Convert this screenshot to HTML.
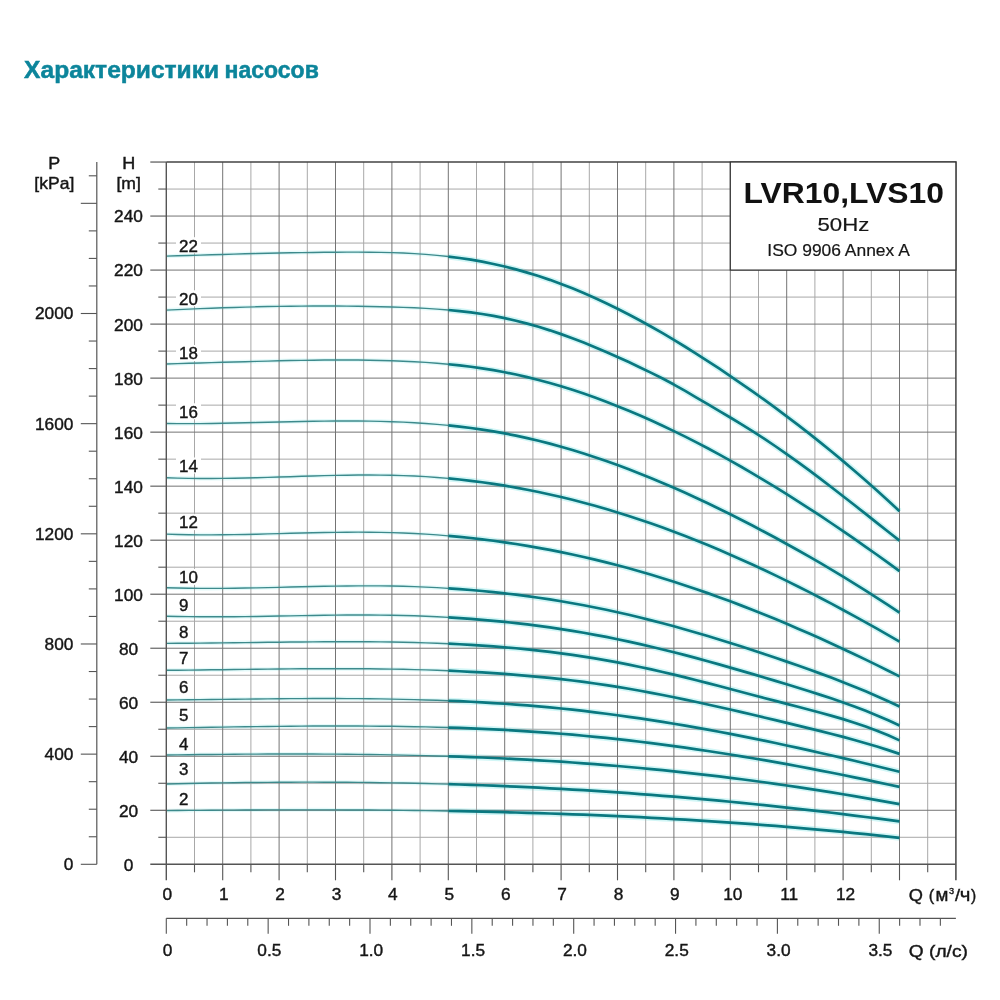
<!DOCTYPE html>
<html><head><meta charset="utf-8"><style>
html,body{margin:0;padding:0;background:#fff;width:1000px;height:1000px;overflow:hidden}
svg{display:block}
text{font-family:"Liberation Sans",sans-serif;fill:#161616;stroke:#161616;stroke-width:0.4px}
</style></head><body>
<svg width="1000" height="1000" viewBox="0 0 1000 1000">
<path d="M448.3 256.57 L459.58 258 L470.86 259.7 L482.14 261.68 L493.42 263.96 L504.7 266.54 L515.98 269.41 L527.26 272.59 L538.54 276.07 L549.82 279.85 L561.1 283.93 L572.38 288.32 L583.66 293.01 L594.94 297.98 L606.22 303.22 L617.5 308.73 L628.78 314.49 L640.06 320.5 L651.34 326.74 L662.62 333.2 L673.9 339.87 L685.18 346.74 L696.46 353.81 L707.74 361.05 L719.02 368.47 L730.3 376.05 L741.58 383.77 L752.86 391.66 L764.14 399.7 L775.42 407.92 L786.7 416.31 L797.98 424.88 L809.26 433.64 L820.54 442.59 L831.82 451.74 L843.1 461.09 L854.38 470.66 L865.66 480.45 L876.94 490.46 L888.22 500.7 L899.5 511.17 M448.3 309.99 L459.58 311.09 L470.86 312.42 L482.14 314.02 L493.42 315.91 L504.7 318.13 L515.98 320.7 L527.26 323.6 L538.54 326.82 L549.82 330.34 L561.1 334.15 L572.38 338.23 L583.66 342.56 L594.94 347.13 L606.22 351.92 L617.5 356.91 L628.78 362.08 L640.06 367.41 L651.34 372.89 L662.62 378.57 L673.9 384.56 L685.18 390.93 L696.46 397.54 L707.74 404.19 L719.02 410.83 L730.3 417.52 L741.58 424.35 L752.86 431.37 L764.14 438.67 L775.42 446.25 L786.7 454.1 L797.98 462.18 L809.26 470.46 L820.54 478.92 L831.82 487.52 L843.1 496.24 L854.38 505.05 L865.66 513.92 L876.94 522.82 L888.22 531.72 L899.5 540.59 M448.3 364.24 L459.58 365.41 L470.86 366.78 L482.14 368.37 L493.42 370.18 L504.7 372.24 L515.98 374.55 L527.26 377.12 L538.54 379.94 L549.82 383 L561.1 386.3 L572.38 389.83 L583.66 393.59 L594.94 397.56 L606.22 401.75 L617.5 406.15 L628.78 410.75 L640.06 415.55 L651.34 420.54 L662.62 425.73 L673.9 431.11 L685.18 436.66 L696.46 442.4 L707.74 448.31 L719.02 454.39 L730.3 460.63 L741.58 467.03 L752.86 473.59 L764.14 480.3 L775.42 487.16 L786.7 494.16 L797.98 501.3 L809.26 508.57 L820.54 515.97 L831.82 523.5 L843.1 531.15 L854.38 538.91 L865.66 546.79 L876.94 554.77 L888.22 562.86 L899.5 571.04 M448.3 425.39 L459.58 426.6 L470.86 428 L482.14 429.59 L493.42 431.39 L504.7 433.4 L515.98 435.63 L527.26 438.09 L538.54 440.76 L549.82 443.64 L561.1 446.73 L572.38 450.02 L583.66 453.5 L594.94 457.18 L606.22 461.04 L617.5 465.08 L628.78 469.3 L640.06 473.69 L651.34 478.24 L662.62 482.95 L673.9 487.82 L685.18 492.84 L696.46 498 L707.74 503.31 L719.02 508.75 L730.3 514.32 L741.58 520.01 L752.86 525.82 L764.14 531.75 L775.42 537.8 L786.7 543.96 L797.98 550.24 L809.26 556.65 L820.54 563.18 L831.82 569.84 L843.1 576.64 L854.38 583.57 L865.66 590.64 L876.94 597.86 L888.22 605.22 L899.5 612.74 M448.3 478.41 L459.58 479.53 L470.86 480.82 L482.14 482.28 L493.42 483.89 L504.7 485.68 L515.98 487.63 L527.26 489.74 L538.54 492.01 L549.82 494.45 L561.1 497.04 L572.38 499.8 L583.66 502.72 L594.94 505.8 L606.22 509.04 L617.5 512.44 L628.78 515.99 L640.06 519.7 L651.34 523.57 L662.62 527.58 L673.9 531.74 L685.18 536.05 L696.46 540.5 L707.74 545.09 L719.02 549.81 L730.3 554.66 L741.58 559.65 L752.86 564.77 L764.14 570.01 L775.42 575.37 L786.7 580.85 L797.98 586.45 L809.26 592.16 L820.54 597.98 L831.82 603.91 L843.1 609.95 L854.38 616.09 L865.66 622.33 L876.94 628.66 L888.22 635.09 L899.5 641.61 M448.3 535.83 L459.58 536.86 L470.86 538.03 L482.14 539.33 L493.42 540.76 L504.7 542.32 L515.98 544.01 L527.26 545.84 L538.54 547.8 L549.82 549.89 L561.1 552.12 L572.38 554.48 L583.66 556.97 L594.94 559.6 L606.22 562.36 L617.5 565.26 L628.78 568.29 L640.06 571.46 L651.34 574.76 L662.62 578.19 L673.9 581.74 L685.18 585.42 L696.46 589.22 L707.74 593.14 L719.02 597.19 L730.3 601.35 L741.58 605.62 L752.86 610.01 L764.14 614.5 L775.42 619.11 L786.7 623.82 L797.98 628.64 L809.26 633.55 L820.54 638.57 L831.82 643.69 L843.1 648.9 L854.38 654.21 L865.66 659.61 L876.94 665.1 L888.22 670.67 L899.5 676.34 M448.3 588.34 L459.58 589.12 L470.86 590.01 L482.14 591.02 L493.42 592.13 L504.7 593.36 L515.98 594.7 L527.26 596.17 L538.54 597.75 L549.82 599.44 L561.1 601.26 L572.38 603.21 L583.66 605.27 L594.94 607.47 L606.22 609.78 L617.5 612.23 L628.78 614.8 L640.06 617.5 L651.34 620.32 L662.62 623.25 L673.9 626.29 L685.18 629.44 L696.46 632.68 L707.74 636.02 L719.02 639.45 L730.3 642.96 L741.58 646.55 L752.86 650.22 L764.14 653.96 L775.42 657.76 L786.7 661.63 L797.98 665.55 L809.26 669.55 L820.54 673.64 L831.82 677.84 L843.1 682.18 L854.38 686.67 L865.66 691.34 L876.94 696.19 L888.22 701.26 L899.5 706.56 M448.3 617.37 L459.58 618.08 L470.86 618.88 L482.14 619.79 L493.42 620.8 L504.7 621.91 L515.98 623.13 L527.26 624.46 L538.54 625.9 L549.82 627.45 L561.1 629.12 L572.38 630.9 L583.66 632.79 L594.94 634.81 L606.22 636.95 L617.5 639.21 L628.78 641.6 L640.06 644.1 L651.34 646.72 L662.62 649.44 L673.9 652.26 L685.18 655.17 L696.46 658.16 L707.74 661.23 L719.02 664.37 L730.3 667.58 L741.58 670.84 L752.86 674.15 L764.14 677.5 L775.42 680.89 L786.7 684.3 L797.98 687.75 L809.26 691.25 L820.54 694.85 L831.82 698.57 L843.1 702.45 L854.38 706.52 L865.66 710.82 L876.94 715.39 L888.22 720.25 L899.5 725.44 M448.3 643.7 L459.58 644.25 L470.86 644.88 L482.14 645.59 L493.42 646.39 L504.7 647.29 L515.98 648.28 L527.26 649.38 L538.54 650.58 L549.82 651.9 L561.1 653.33 L572.38 654.89 L583.66 656.56 L594.94 658.37 L606.22 660.31 L617.5 662.39 L628.78 664.61 L640.06 666.96 L651.34 669.43 L662.62 672 L673.9 674.67 L685.18 677.42 L696.46 680.24 L707.74 683.12 L719.02 686.05 L730.3 689 L741.58 691.98 L752.86 694.97 L764.14 697.96 L775.42 700.93 L786.7 703.87 L797.98 706.79 L809.26 709.72 L820.54 712.72 L831.82 715.85 L843.1 719.16 L854.38 722.71 L865.66 726.55 L876.94 730.73 L888.22 735.32 L899.5 740.36 M448.3 670.72 L459.58 671.23 L470.86 671.8 L482.14 672.44 L493.42 673.15 L504.7 673.94 L515.98 674.82 L527.26 675.78 L538.54 676.82 L549.82 677.96 L561.1 679.19 L572.38 680.53 L583.66 681.96 L594.94 683.49 L606.22 685.14 L617.5 686.9 L628.78 688.77 L640.06 690.74 L651.34 692.82 L662.62 694.99 L673.9 697.25 L685.18 699.58 L696.46 701.98 L707.74 704.45 L719.02 706.98 L730.3 709.55 L741.58 712.16 L752.86 714.81 L764.14 717.48 L775.42 720.17 L786.7 722.88 L797.98 725.59 L809.26 728.33 L820.54 731.12 L831.82 733.98 L843.1 736.93 L854.38 740 L865.66 743.2 L876.94 746.57 L888.22 750.11 L899.5 753.86 M448.3 700.74 L459.58 701.22 L470.86 701.76 L482.14 702.36 L493.42 703.03 L504.7 703.76 L515.98 704.56 L527.26 705.44 L538.54 706.38 L549.82 707.41 L561.1 708.51 L572.38 709.7 L583.66 710.96 L594.94 712.31 L606.22 713.73 L617.5 715.23 L628.78 716.8 L640.06 718.44 L651.34 720.15 L662.62 721.93 L673.9 723.77 L685.18 725.68 L696.46 727.66 L707.74 729.69 L719.02 731.78 L730.3 733.93 L741.58 736.13 L752.86 738.39 L764.14 740.69 L775.42 743.05 L786.7 745.46 L797.98 747.91 L809.26 750.41 L820.54 752.95 L831.82 755.53 L843.1 758.14 L854.38 760.8 L865.66 763.49 L876.94 766.22 L888.22 768.97 L899.5 771.76 M448.3 727.54 L459.58 727.92 L470.86 728.35 L482.14 728.82 L493.42 729.35 L504.7 729.94 L515.98 730.58 L527.26 731.28 L538.54 732.04 L549.82 732.86 L561.1 733.75 L572.38 734.71 L583.66 735.73 L594.94 736.81 L606.22 737.96 L617.5 739.17 L628.78 740.45 L640.06 741.78 L651.34 743.18 L662.62 744.63 L673.9 746.14 L685.18 747.71 L696.46 749.33 L707.74 751.01 L719.02 752.74 L730.3 754.52 L741.58 756.36 L752.86 758.24 L764.14 760.18 L775.42 762.17 L786.7 764.2 L797.98 766.28 L809.26 768.4 L820.54 770.57 L831.82 772.79 L843.1 775.04 L854.38 777.34 L865.66 779.68 L876.94 782.06 L888.22 784.48 L899.5 786.93 M448.3 756.28 L459.58 756.66 L470.86 757.07 L482.14 757.52 L493.42 758 L504.7 758.52 L515.98 759.08 L527.26 759.68 L538.54 760.32 L549.82 761 L561.1 761.72 L572.38 762.49 L583.66 763.3 L594.94 764.15 L606.22 765.05 L617.5 765.99 L628.78 766.98 L640.06 768.01 L651.34 769.08 L662.62 770.2 L673.9 771.36 L685.18 772.57 L696.46 773.82 L707.74 775.12 L719.02 776.46 L730.3 777.85 L741.58 779.28 L752.86 780.76 L764.14 782.28 L775.42 783.85 L786.7 785.47 L797.98 787.13 L809.26 788.83 L820.54 790.59 L831.82 792.39 L843.1 794.23 L854.38 796.12 L865.66 798.06 L876.94 800.05 L888.22 802.08 L899.5 804.16 M448.3 784.15 L459.58 784.49 L470.86 784.86 L482.14 785.26 L493.42 785.69 L504.7 786.15 L515.98 786.64 L527.26 787.16 L538.54 787.71 L549.82 788.29 L561.1 788.9 L572.38 789.54 L583.66 790.21 L594.94 790.92 L606.22 791.65 L617.5 792.42 L628.78 793.22 L640.06 794.05 L651.34 794.9 L662.62 795.79 L673.9 796.71 L685.18 797.66 L696.46 798.65 L707.74 799.66 L719.02 800.7 L730.3 801.77 L741.58 802.87 L752.86 804.01 L764.14 805.17 L775.42 806.36 L786.7 807.59 L797.98 808.84 L809.26 810.12 L820.54 811.44 L831.82 812.78 L843.1 814.15 L854.38 815.55 L865.66 816.99 L876.94 818.45 L888.22 819.94 L899.5 821.46 M448.3 810.99 L459.58 811.19 L470.86 811.41 L482.14 811.65 L493.42 811.91 L504.7 812.19 L515.98 812.48 L527.26 812.8 L538.54 813.14 L549.82 813.5 L561.1 813.89 L572.38 814.29 L583.66 814.72 L594.94 815.17 L606.22 815.65 L617.5 816.15 L628.78 816.67 L640.06 817.22 L651.34 817.8 L662.62 818.4 L673.9 819.03 L685.18 819.68 L696.46 820.37 L707.74 821.08 L719.02 821.82 L730.3 822.58 L741.58 823.38 L752.86 824.21 L764.14 825.06 L775.42 825.95 L786.7 826.87 L797.98 827.82 L809.26 828.8 L820.54 829.81 L831.82 830.86 L843.1 831.94 L854.38 833.05 L865.66 834.2 L876.94 835.38 L888.22 836.6 L899.5 837.85" fill="none" stroke="#d2f6f6" stroke-width="6" stroke-linejoin="round"/>
<path d="M166.3 256.17 L177.58 255.8 L188.86 255.45 L200.14 255.1 L211.42 254.76 L222.7 254.43 L233.98 254.11 L245.26 253.81 L256.54 253.52 L267.82 253.25 L279.1 253.01 L290.38 252.79 L301.66 252.6 L312.94 252.43 L324.22 252.3 L335.5 252.19 L346.78 252.13 L358.06 252.12 L369.34 252.19 L380.62 252.35 L391.9 252.64 L403.18 253.06 L414.46 253.65 L425.74 254.41 L437.02 255.38 L448.3 256.57 M166.3 310.12 L177.58 309.59 L188.86 309.09 L200.14 308.62 L211.42 308.19 L222.7 307.79 L233.98 307.43 L245.26 307.1 L256.54 306.82 L267.82 306.57 L279.1 306.37 L290.38 306.21 L301.66 306.1 L312.94 306.04 L324.22 306.02 L335.5 306.05 L346.78 306.13 L358.06 306.27 L369.34 306.46 L380.62 306.7 L391.9 307 L403.18 307.36 L414.46 307.81 L425.74 308.38 L437.02 309.1 L448.3 309.99 M166.3 363.98 L177.58 363.63 L188.86 363.29 L200.14 362.96 L211.42 362.63 L222.7 362.31 L233.98 361.99 L245.26 361.68 L256.54 361.38 L267.82 361.09 L279.1 360.82 L290.38 360.57 L301.66 360.36 L312.94 360.19 L324.22 360.07 L335.5 360 L346.78 360 L358.06 360.07 L369.34 360.21 L380.62 360.44 L391.9 360.77 L403.18 361.2 L414.46 361.74 L425.74 362.42 L437.02 363.25 L448.3 364.24 M166.3 423.56 L177.58 423.64 L188.86 423.65 L200.14 423.58 L211.42 423.45 L222.7 423.27 L233.98 423.04 L245.26 422.79 L256.54 422.53 L267.82 422.25 L279.1 421.97 L290.38 421.71 L301.66 421.47 L312.94 421.27 L324.22 421.11 L335.5 421.01 L346.78 420.97 L358.06 421.01 L369.34 421.14 L380.62 421.37 L391.9 421.71 L403.18 422.16 L414.46 422.75 L425.74 423.47 L437.02 424.35 L448.3 425.39 M166.3 477.73 L177.58 478.12 L188.86 478.37 L200.14 478.49 L211.42 478.5 L222.7 478.42 L233.98 478.25 L245.26 478.02 L256.54 477.73 L267.82 477.4 L279.1 477.05 L290.38 476.68 L301.66 476.32 L312.94 475.98 L324.22 475.66 L335.5 475.4 L346.78 475.2 L358.06 475.07 L369.34 475.03 L380.62 475.09 L391.9 475.27 L403.18 475.59 L414.46 476.05 L425.74 476.67 L437.02 477.46 L448.3 478.41 M166.3 534.15 L177.58 534.5 L188.86 534.73 L200.14 534.84 L211.42 534.86 L222.7 534.79 L233.98 534.64 L245.26 534.44 L256.54 534.2 L267.82 533.92 L279.1 533.62 L290.38 533.32 L301.66 533.03 L312.94 532.76 L324.22 532.52 L335.5 532.34 L346.78 532.21 L358.06 532.16 L369.34 532.2 L380.62 532.35 L391.9 532.6 L403.18 532.99 L414.46 533.5 L425.74 534.15 L437.02 534.92 L448.3 535.83 M166.3 587.75 L177.58 588.06 L188.86 588.27 L200.14 588.38 L211.42 588.4 L222.7 588.34 L233.98 588.22 L245.26 588.05 L256.54 587.84 L267.82 587.6 L279.1 587.33 L290.38 587.06 L301.66 586.79 L312.94 586.53 L324.22 586.3 L335.5 586.11 L346.78 585.96 L358.06 585.87 L369.34 585.84 L380.62 585.9 L391.9 586.05 L403.18 586.3 L414.46 586.65 L425.74 587.11 L437.02 587.67 L448.3 588.34 M166.3 616.18 L177.58 616.47 L188.86 616.66 L200.14 616.78 L211.42 616.82 L222.7 616.8 L233.98 616.72 L245.26 616.6 L256.54 616.45 L267.82 616.26 L279.1 616.07 L290.38 615.86 L301.66 615.66 L312.94 615.46 L324.22 615.29 L335.5 615.15 L346.78 615.05 L358.06 615 L369.34 615.01 L380.62 615.09 L391.9 615.25 L403.18 615.49 L414.46 615.82 L425.74 616.24 L437.02 616.76 L448.3 617.37 M166.3 643.33 L177.58 643.3 L188.86 643.23 L200.14 643.14 L211.42 643.03 L222.7 642.91 L233.98 642.77 L245.26 642.62 L256.54 642.47 L267.82 642.32 L279.1 642.18 L290.38 642.05 L301.66 641.93 L312.94 641.83 L324.22 641.75 L335.5 641.7 L346.78 641.68 L358.06 641.7 L369.34 641.76 L380.62 641.87 L391.9 642.03 L403.18 642.23 L414.46 642.5 L425.74 642.83 L437.02 643.23 L448.3 643.7 M166.3 670.27 L177.58 670.18 L188.86 670.08 L200.14 669.95 L211.42 669.82 L222.7 669.68 L233.98 669.54 L245.26 669.4 L256.54 669.26 L267.82 669.13 L279.1 669.01 L290.38 668.9 L301.66 668.81 L312.94 668.74 L324.22 668.7 L335.5 668.68 L346.78 668.69 L358.06 668.74 L369.34 668.82 L380.62 668.94 L391.9 669.11 L403.18 669.32 L414.46 669.59 L425.74 669.91 L437.02 670.29 L448.3 670.72 M166.3 700.04 L177.58 699.91 L188.86 699.77 L200.14 699.63 L211.42 699.49 L222.7 699.35 L233.98 699.21 L245.26 699.08 L256.54 698.96 L267.82 698.84 L279.1 698.75 L290.38 698.66 L301.66 698.6 L312.94 698.56 L324.22 698.55 L335.5 698.56 L346.78 698.6 L358.06 698.67 L369.34 698.78 L380.62 698.92 L391.9 699.11 L403.18 699.34 L414.46 699.61 L425.74 699.94 L437.02 700.31 L448.3 700.74 M166.3 728.01 L177.58 727.83 L188.86 727.64 L200.14 727.46 L211.42 727.27 L222.7 727.1 L233.98 726.92 L245.26 726.76 L256.54 726.61 L267.82 726.47 L279.1 726.34 L290.38 726.23 L301.66 726.14 L312.94 726.07 L324.22 726.02 L335.5 725.99 L346.78 726 L358.06 726.03 L369.34 726.09 L380.62 726.18 L391.9 726.31 L403.18 726.48 L414.46 726.68 L425.74 726.92 L437.02 727.21 L448.3 727.54 M166.3 754.98 L177.58 754.83 L188.86 754.69 L200.14 754.56 L211.42 754.45 L222.7 754.34 L233.98 754.25 L245.26 754.17 L256.54 754.1 L267.82 754.05 L279.1 754.02 L290.38 754.01 L301.66 754.01 L312.94 754.04 L324.22 754.09 L335.5 754.16 L346.78 754.25 L358.06 754.36 L369.34 754.5 L380.62 754.67 L391.9 754.86 L403.18 755.09 L414.46 755.34 L425.74 755.62 L437.02 755.93 L448.3 756.28 M166.3 784.07 L177.58 783.79 L188.86 783.53 L200.14 783.29 L211.42 783.07 L222.7 782.88 L233.98 782.71 L245.26 782.56 L256.54 782.43 L267.82 782.33 L279.1 782.26 L290.38 782.2 L301.66 782.17 L312.94 782.17 L324.22 782.19 L335.5 782.24 L346.78 782.31 L358.06 782.41 L369.34 782.53 L380.62 782.68 L391.9 782.86 L403.18 783.06 L414.46 783.29 L425.74 783.55 L437.02 783.83 L448.3 784.15 M166.3 810.65 L177.58 810.53 L188.86 810.42 L200.14 810.33 L211.42 810.23 L222.7 810.15 L233.98 810.08 L245.26 810.01 L256.54 809.96 L267.82 809.91 L279.1 809.88 L290.38 809.86 L301.66 809.85 L312.94 809.85 L324.22 809.87 L335.5 809.89 L346.78 809.94 L358.06 809.99 L369.34 810.06 L380.62 810.15 L391.9 810.25 L403.18 810.36 L414.46 810.49 L425.74 810.64 L437.02 810.81 L448.3 810.99" fill="none" stroke="#e4fafa" stroke-width="4" stroke-linejoin="round"/>
<line x1="194.5" y1="162.04" x2="194.5" y2="864.3" stroke="#a8a8a8" stroke-width="1.0"/>
<line x1="250.9" y1="162.04" x2="250.9" y2="864.3" stroke="#a8a8a8" stroke-width="1.0"/>
<line x1="307.3" y1="162.04" x2="307.3" y2="864.3" stroke="#a8a8a8" stroke-width="1.0"/>
<line x1="363.7" y1="162.04" x2="363.7" y2="864.3" stroke="#a8a8a8" stroke-width="1.0"/>
<line x1="420.1" y1="162.04" x2="420.1" y2="864.3" stroke="#a8a8a8" stroke-width="1.0"/>
<line x1="476.5" y1="162.04" x2="476.5" y2="864.3" stroke="#a8a8a8" stroke-width="1.0"/>
<line x1="532.9" y1="162.04" x2="532.9" y2="864.3" stroke="#a8a8a8" stroke-width="1.0"/>
<line x1="589.3" y1="162.04" x2="589.3" y2="864.3" stroke="#a8a8a8" stroke-width="1.0"/>
<line x1="645.7" y1="162.04" x2="645.7" y2="864.3" stroke="#a8a8a8" stroke-width="1.0"/>
<line x1="702.1" y1="162.04" x2="702.1" y2="864.3" stroke="#a8a8a8" stroke-width="1.0"/>
<line x1="758.5" y1="162.04" x2="758.5" y2="864.3" stroke="#a8a8a8" stroke-width="1.0"/>
<line x1="814.9" y1="162.04" x2="814.9" y2="864.3" stroke="#a8a8a8" stroke-width="1.0"/>
<line x1="871.3" y1="162.04" x2="871.3" y2="864.3" stroke="#a8a8a8" stroke-width="1.0"/>
<line x1="927.7" y1="162.04" x2="927.7" y2="864.3" stroke="#a8a8a8" stroke-width="1.0"/>
<line x1="166.3" y1="837.29" x2="955.9" y2="837.29" stroke="#a8a8a8" stroke-width="1.0"/>
<line x1="166.3" y1="783.27" x2="955.9" y2="783.27" stroke="#a8a8a8" stroke-width="1.0"/>
<line x1="166.3" y1="729.25" x2="955.9" y2="729.25" stroke="#a8a8a8" stroke-width="1.0"/>
<line x1="166.3" y1="675.23" x2="955.9" y2="675.23" stroke="#a8a8a8" stroke-width="1.0"/>
<line x1="166.3" y1="621.21" x2="955.9" y2="621.21" stroke="#a8a8a8" stroke-width="1.0"/>
<line x1="166.3" y1="567.19" x2="955.9" y2="567.19" stroke="#a8a8a8" stroke-width="1.0"/>
<line x1="166.3" y1="513.17" x2="955.9" y2="513.17" stroke="#a8a8a8" stroke-width="1.0"/>
<line x1="166.3" y1="459.15" x2="955.9" y2="459.15" stroke="#a8a8a8" stroke-width="1.0"/>
<line x1="166.3" y1="405.13" x2="955.9" y2="405.13" stroke="#a8a8a8" stroke-width="1.0"/>
<line x1="166.3" y1="351.11" x2="955.9" y2="351.11" stroke="#a8a8a8" stroke-width="1.0"/>
<line x1="166.3" y1="297.09" x2="955.9" y2="297.09" stroke="#a8a8a8" stroke-width="1.0"/>
<line x1="166.3" y1="243.07" x2="955.9" y2="243.07" stroke="#a8a8a8" stroke-width="1.0"/>
<line x1="166.3" y1="189.05" x2="955.9" y2="189.05" stroke="#a8a8a8" stroke-width="1.0"/>
<line x1="222.7" y1="162.04" x2="222.7" y2="864.3" stroke="#747474" stroke-width="1.0"/>
<line x1="279.1" y1="162.04" x2="279.1" y2="864.3" stroke="#747474" stroke-width="1.0"/>
<line x1="335.5" y1="162.04" x2="335.5" y2="864.3" stroke="#747474" stroke-width="1.0"/>
<line x1="391.9" y1="162.04" x2="391.9" y2="864.3" stroke="#747474" stroke-width="1.0"/>
<line x1="448.3" y1="162.04" x2="448.3" y2="864.3" stroke="#747474" stroke-width="1.0"/>
<line x1="504.7" y1="162.04" x2="504.7" y2="864.3" stroke="#747474" stroke-width="1.0"/>
<line x1="561.1" y1="162.04" x2="561.1" y2="864.3" stroke="#747474" stroke-width="1.0"/>
<line x1="617.5" y1="162.04" x2="617.5" y2="864.3" stroke="#747474" stroke-width="1.0"/>
<line x1="673.9" y1="162.04" x2="673.9" y2="864.3" stroke="#747474" stroke-width="1.0"/>
<line x1="730.3" y1="162.04" x2="730.3" y2="864.3" stroke="#747474" stroke-width="1.0"/>
<line x1="786.7" y1="162.04" x2="786.7" y2="864.3" stroke="#747474" stroke-width="1.0"/>
<line x1="843.1" y1="162.04" x2="843.1" y2="864.3" stroke="#747474" stroke-width="1.0"/>
<line x1="899.5" y1="162.04" x2="899.5" y2="864.3" stroke="#747474" stroke-width="1.0"/>
<line x1="166.3" y1="810.28" x2="955.9" y2="810.28" stroke="#747474" stroke-width="1.0"/>
<line x1="166.3" y1="756.26" x2="955.9" y2="756.26" stroke="#747474" stroke-width="1.0"/>
<line x1="166.3" y1="702.24" x2="955.9" y2="702.24" stroke="#747474" stroke-width="1.0"/>
<line x1="166.3" y1="648.22" x2="955.9" y2="648.22" stroke="#747474" stroke-width="1.0"/>
<line x1="166.3" y1="594.2" x2="955.9" y2="594.2" stroke="#747474" stroke-width="1.0"/>
<line x1="166.3" y1="540.18" x2="955.9" y2="540.18" stroke="#747474" stroke-width="1.0"/>
<line x1="166.3" y1="486.16" x2="955.9" y2="486.16" stroke="#747474" stroke-width="1.0"/>
<line x1="166.3" y1="432.14" x2="955.9" y2="432.14" stroke="#747474" stroke-width="1.0"/>
<line x1="166.3" y1="378.12" x2="955.9" y2="378.12" stroke="#747474" stroke-width="1.0"/>
<line x1="166.3" y1="324.1" x2="955.9" y2="324.1" stroke="#747474" stroke-width="1.0"/>
<line x1="166.3" y1="270.08" x2="955.9" y2="270.08" stroke="#747474" stroke-width="1.0"/>
<line x1="166.3" y1="216.06" x2="955.9" y2="216.06" stroke="#747474" stroke-width="1.0"/>
<rect x="176" y="237.2" width="25" height="16" fill="#fff"/>
<rect x="176" y="290.3" width="25" height="16" fill="#fff"/>
<rect x="176" y="345" width="25" height="16" fill="#fff"/>
<rect x="176" y="403.3" width="25" height="16" fill="#fff"/>
<rect x="176" y="457.5" width="25" height="16" fill="#fff"/>
<rect x="176" y="514.1" width="25" height="16" fill="#fff"/>
<rect x="176" y="568.9" width="25" height="16" fill="#fff"/>
<rect x="176" y="597.1" width="15" height="16" fill="#fff"/>
<rect x="176" y="623.5" width="15" height="16" fill="#fff"/>
<rect x="176" y="649.9" width="15" height="16" fill="#fff"/>
<rect x="176" y="679" width="15" height="16" fill="#fff"/>
<rect x="176" y="706.5" width="15" height="16" fill="#fff"/>
<rect x="176" y="735.9" width="15" height="16" fill="#fff"/>
<rect x="176" y="761.1" width="15" height="16" fill="#fff"/>
<rect x="176" y="790.5" width="15" height="16" fill="#fff"/>
<path d="M166.3 256.17 L177.58 255.8 L188.86 255.45 L200.14 255.1 L211.42 254.76 L222.7 254.43 L233.98 254.11 L245.26 253.81 L256.54 253.52 L267.82 253.25 L279.1 253.01 L290.38 252.79 L301.66 252.6 L312.94 252.43 L324.22 252.3 L335.5 252.19 L346.78 252.13 L358.06 252.12 L369.34 252.19 L380.62 252.35 L391.9 252.64 L403.18 253.06 L414.46 253.65 L425.74 254.41 L437.02 255.38 L448.3 256.57 M166.3 310.12 L177.58 309.59 L188.86 309.09 L200.14 308.62 L211.42 308.19 L222.7 307.79 L233.98 307.43 L245.26 307.1 L256.54 306.82 L267.82 306.57 L279.1 306.37 L290.38 306.21 L301.66 306.1 L312.94 306.04 L324.22 306.02 L335.5 306.05 L346.78 306.13 L358.06 306.27 L369.34 306.46 L380.62 306.7 L391.9 307 L403.18 307.36 L414.46 307.81 L425.74 308.38 L437.02 309.1 L448.3 309.99 M166.3 363.98 L177.58 363.63 L188.86 363.29 L200.14 362.96 L211.42 362.63 L222.7 362.31 L233.98 361.99 L245.26 361.68 L256.54 361.38 L267.82 361.09 L279.1 360.82 L290.38 360.57 L301.66 360.36 L312.94 360.19 L324.22 360.07 L335.5 360 L346.78 360 L358.06 360.07 L369.34 360.21 L380.62 360.44 L391.9 360.77 L403.18 361.2 L414.46 361.74 L425.74 362.42 L437.02 363.25 L448.3 364.24 M166.3 423.56 L177.58 423.64 L188.86 423.65 L200.14 423.58 L211.42 423.45 L222.7 423.27 L233.98 423.04 L245.26 422.79 L256.54 422.53 L267.82 422.25 L279.1 421.97 L290.38 421.71 L301.66 421.47 L312.94 421.27 L324.22 421.11 L335.5 421.01 L346.78 420.97 L358.06 421.01 L369.34 421.14 L380.62 421.37 L391.9 421.71 L403.18 422.16 L414.46 422.75 L425.74 423.47 L437.02 424.35 L448.3 425.39 M166.3 477.73 L177.58 478.12 L188.86 478.37 L200.14 478.49 L211.42 478.5 L222.7 478.42 L233.98 478.25 L245.26 478.02 L256.54 477.73 L267.82 477.4 L279.1 477.05 L290.38 476.68 L301.66 476.32 L312.94 475.98 L324.22 475.66 L335.5 475.4 L346.78 475.2 L358.06 475.07 L369.34 475.03 L380.62 475.09 L391.9 475.27 L403.18 475.59 L414.46 476.05 L425.74 476.67 L437.02 477.46 L448.3 478.41 M166.3 534.15 L177.58 534.5 L188.86 534.73 L200.14 534.84 L211.42 534.86 L222.7 534.79 L233.98 534.64 L245.26 534.44 L256.54 534.2 L267.82 533.92 L279.1 533.62 L290.38 533.32 L301.66 533.03 L312.94 532.76 L324.22 532.52 L335.5 532.34 L346.78 532.21 L358.06 532.16 L369.34 532.2 L380.62 532.35 L391.9 532.6 L403.18 532.99 L414.46 533.5 L425.74 534.15 L437.02 534.92 L448.3 535.83 M166.3 587.75 L177.58 588.06 L188.86 588.27 L200.14 588.38 L211.42 588.4 L222.7 588.34 L233.98 588.22 L245.26 588.05 L256.54 587.84 L267.82 587.6 L279.1 587.33 L290.38 587.06 L301.66 586.79 L312.94 586.53 L324.22 586.3 L335.5 586.11 L346.78 585.96 L358.06 585.87 L369.34 585.84 L380.62 585.9 L391.9 586.05 L403.18 586.3 L414.46 586.65 L425.74 587.11 L437.02 587.67 L448.3 588.34 M166.3 616.18 L177.58 616.47 L188.86 616.66 L200.14 616.78 L211.42 616.82 L222.7 616.8 L233.98 616.72 L245.26 616.6 L256.54 616.45 L267.82 616.26 L279.1 616.07 L290.38 615.86 L301.66 615.66 L312.94 615.46 L324.22 615.29 L335.5 615.15 L346.78 615.05 L358.06 615 L369.34 615.01 L380.62 615.09 L391.9 615.25 L403.18 615.49 L414.46 615.82 L425.74 616.24 L437.02 616.76 L448.3 617.37 M166.3 643.33 L177.58 643.3 L188.86 643.23 L200.14 643.14 L211.42 643.03 L222.7 642.91 L233.98 642.77 L245.26 642.62 L256.54 642.47 L267.82 642.32 L279.1 642.18 L290.38 642.05 L301.66 641.93 L312.94 641.83 L324.22 641.75 L335.5 641.7 L346.78 641.68 L358.06 641.7 L369.34 641.76 L380.62 641.87 L391.9 642.03 L403.18 642.23 L414.46 642.5 L425.74 642.83 L437.02 643.23 L448.3 643.7 M166.3 670.27 L177.58 670.18 L188.86 670.08 L200.14 669.95 L211.42 669.82 L222.7 669.68 L233.98 669.54 L245.26 669.4 L256.54 669.26 L267.82 669.13 L279.1 669.01 L290.38 668.9 L301.66 668.81 L312.94 668.74 L324.22 668.7 L335.5 668.68 L346.78 668.69 L358.06 668.74 L369.34 668.82 L380.62 668.94 L391.9 669.11 L403.18 669.32 L414.46 669.59 L425.74 669.91 L437.02 670.29 L448.3 670.72 M166.3 700.04 L177.58 699.91 L188.86 699.77 L200.14 699.63 L211.42 699.49 L222.7 699.35 L233.98 699.21 L245.26 699.08 L256.54 698.96 L267.82 698.84 L279.1 698.75 L290.38 698.66 L301.66 698.6 L312.94 698.56 L324.22 698.55 L335.5 698.56 L346.78 698.6 L358.06 698.67 L369.34 698.78 L380.62 698.92 L391.9 699.11 L403.18 699.34 L414.46 699.61 L425.74 699.94 L437.02 700.31 L448.3 700.74 M166.3 728.01 L177.58 727.83 L188.86 727.64 L200.14 727.46 L211.42 727.27 L222.7 727.1 L233.98 726.92 L245.26 726.76 L256.54 726.61 L267.82 726.47 L279.1 726.34 L290.38 726.23 L301.66 726.14 L312.94 726.07 L324.22 726.02 L335.5 725.99 L346.78 726 L358.06 726.03 L369.34 726.09 L380.62 726.18 L391.9 726.31 L403.18 726.48 L414.46 726.68 L425.74 726.92 L437.02 727.21 L448.3 727.54 M166.3 754.98 L177.58 754.83 L188.86 754.69 L200.14 754.56 L211.42 754.45 L222.7 754.34 L233.98 754.25 L245.26 754.17 L256.54 754.1 L267.82 754.05 L279.1 754.02 L290.38 754.01 L301.66 754.01 L312.94 754.04 L324.22 754.09 L335.5 754.16 L346.78 754.25 L358.06 754.36 L369.34 754.5 L380.62 754.67 L391.9 754.86 L403.18 755.09 L414.46 755.34 L425.74 755.62 L437.02 755.93 L448.3 756.28 M166.3 784.07 L177.58 783.79 L188.86 783.53 L200.14 783.29 L211.42 783.07 L222.7 782.88 L233.98 782.71 L245.26 782.56 L256.54 782.43 L267.82 782.33 L279.1 782.26 L290.38 782.2 L301.66 782.17 L312.94 782.17 L324.22 782.19 L335.5 782.24 L346.78 782.31 L358.06 782.41 L369.34 782.53 L380.62 782.68 L391.9 782.86 L403.18 783.06 L414.46 783.29 L425.74 783.55 L437.02 783.83 L448.3 784.15 M166.3 810.65 L177.58 810.53 L188.86 810.42 L200.14 810.33 L211.42 810.23 L222.7 810.15 L233.98 810.08 L245.26 810.01 L256.54 809.96 L267.82 809.91 L279.1 809.88 L290.38 809.86 L301.66 809.85 L312.94 809.85 L324.22 809.87 L335.5 809.89 L346.78 809.94 L358.06 809.99 L369.34 810.06 L380.62 810.15 L391.9 810.25 L403.18 810.36 L414.46 810.49 L425.74 810.64 L437.02 810.81 L448.3 810.99" fill="none" stroke="#3d8a8c" stroke-width="1.4" stroke-linejoin="round"/>
<path d="M448.3 256.57 L459.58 258 L470.86 259.7 L482.14 261.68 L493.42 263.96 L504.7 266.54 L515.98 269.41 L527.26 272.59 L538.54 276.07 L549.82 279.85 L561.1 283.93 L572.38 288.32 L583.66 293.01 L594.94 297.98 L606.22 303.22 L617.5 308.73 L628.78 314.49 L640.06 320.5 L651.34 326.74 L662.62 333.2 L673.9 339.87 L685.18 346.74 L696.46 353.81 L707.74 361.05 L719.02 368.47 L730.3 376.05 L741.58 383.77 L752.86 391.66 L764.14 399.7 L775.42 407.92 L786.7 416.31 L797.98 424.88 L809.26 433.64 L820.54 442.59 L831.82 451.74 L843.1 461.09 L854.38 470.66 L865.66 480.45 L876.94 490.46 L888.22 500.7 L899.5 511.17 M448.3 309.99 L459.58 311.09 L470.86 312.42 L482.14 314.02 L493.42 315.91 L504.7 318.13 L515.98 320.7 L527.26 323.6 L538.54 326.82 L549.82 330.34 L561.1 334.15 L572.38 338.23 L583.66 342.56 L594.94 347.13 L606.22 351.92 L617.5 356.91 L628.78 362.08 L640.06 367.41 L651.34 372.89 L662.62 378.57 L673.9 384.56 L685.18 390.93 L696.46 397.54 L707.74 404.19 L719.02 410.83 L730.3 417.52 L741.58 424.35 L752.86 431.37 L764.14 438.67 L775.42 446.25 L786.7 454.1 L797.98 462.18 L809.26 470.46 L820.54 478.92 L831.82 487.52 L843.1 496.24 L854.38 505.05 L865.66 513.92 L876.94 522.82 L888.22 531.72 L899.5 540.59 M448.3 364.24 L459.58 365.41 L470.86 366.78 L482.14 368.37 L493.42 370.18 L504.7 372.24 L515.98 374.55 L527.26 377.12 L538.54 379.94 L549.82 383 L561.1 386.3 L572.38 389.83 L583.66 393.59 L594.94 397.56 L606.22 401.75 L617.5 406.15 L628.78 410.75 L640.06 415.55 L651.34 420.54 L662.62 425.73 L673.9 431.11 L685.18 436.66 L696.46 442.4 L707.74 448.31 L719.02 454.39 L730.3 460.63 L741.58 467.03 L752.86 473.59 L764.14 480.3 L775.42 487.16 L786.7 494.16 L797.98 501.3 L809.26 508.57 L820.54 515.97 L831.82 523.5 L843.1 531.15 L854.38 538.91 L865.66 546.79 L876.94 554.77 L888.22 562.86 L899.5 571.04 M448.3 425.39 L459.58 426.6 L470.86 428 L482.14 429.59 L493.42 431.39 L504.7 433.4 L515.98 435.63 L527.26 438.09 L538.54 440.76 L549.82 443.64 L561.1 446.73 L572.38 450.02 L583.66 453.5 L594.94 457.18 L606.22 461.04 L617.5 465.08 L628.78 469.3 L640.06 473.69 L651.34 478.24 L662.62 482.95 L673.9 487.82 L685.18 492.84 L696.46 498 L707.74 503.31 L719.02 508.75 L730.3 514.32 L741.58 520.01 L752.86 525.82 L764.14 531.75 L775.42 537.8 L786.7 543.96 L797.98 550.24 L809.26 556.65 L820.54 563.18 L831.82 569.84 L843.1 576.64 L854.38 583.57 L865.66 590.64 L876.94 597.86 L888.22 605.22 L899.5 612.74 M448.3 478.41 L459.58 479.53 L470.86 480.82 L482.14 482.28 L493.42 483.89 L504.7 485.68 L515.98 487.63 L527.26 489.74 L538.54 492.01 L549.82 494.45 L561.1 497.04 L572.38 499.8 L583.66 502.72 L594.94 505.8 L606.22 509.04 L617.5 512.44 L628.78 515.99 L640.06 519.7 L651.34 523.57 L662.62 527.58 L673.9 531.74 L685.18 536.05 L696.46 540.5 L707.74 545.09 L719.02 549.81 L730.3 554.66 L741.58 559.65 L752.86 564.77 L764.14 570.01 L775.42 575.37 L786.7 580.85 L797.98 586.45 L809.26 592.16 L820.54 597.98 L831.82 603.91 L843.1 609.95 L854.38 616.09 L865.66 622.33 L876.94 628.66 L888.22 635.09 L899.5 641.61 M448.3 535.83 L459.58 536.86 L470.86 538.03 L482.14 539.33 L493.42 540.76 L504.7 542.32 L515.98 544.01 L527.26 545.84 L538.54 547.8 L549.82 549.89 L561.1 552.12 L572.38 554.48 L583.66 556.97 L594.94 559.6 L606.22 562.36 L617.5 565.26 L628.78 568.29 L640.06 571.46 L651.34 574.76 L662.62 578.19 L673.9 581.74 L685.18 585.42 L696.46 589.22 L707.74 593.14 L719.02 597.19 L730.3 601.35 L741.58 605.62 L752.86 610.01 L764.14 614.5 L775.42 619.11 L786.7 623.82 L797.98 628.64 L809.26 633.55 L820.54 638.57 L831.82 643.69 L843.1 648.9 L854.38 654.21 L865.66 659.61 L876.94 665.1 L888.22 670.67 L899.5 676.34 M448.3 588.34 L459.58 589.12 L470.86 590.01 L482.14 591.02 L493.42 592.13 L504.7 593.36 L515.98 594.7 L527.26 596.17 L538.54 597.75 L549.82 599.44 L561.1 601.26 L572.38 603.21 L583.66 605.27 L594.94 607.47 L606.22 609.78 L617.5 612.23 L628.78 614.8 L640.06 617.5 L651.34 620.32 L662.62 623.25 L673.9 626.29 L685.18 629.44 L696.46 632.68 L707.74 636.02 L719.02 639.45 L730.3 642.96 L741.58 646.55 L752.86 650.22 L764.14 653.96 L775.42 657.76 L786.7 661.63 L797.98 665.55 L809.26 669.55 L820.54 673.64 L831.82 677.84 L843.1 682.18 L854.38 686.67 L865.66 691.34 L876.94 696.19 L888.22 701.26 L899.5 706.56 M448.3 617.37 L459.58 618.08 L470.86 618.88 L482.14 619.79 L493.42 620.8 L504.7 621.91 L515.98 623.13 L527.26 624.46 L538.54 625.9 L549.82 627.45 L561.1 629.12 L572.38 630.9 L583.66 632.79 L594.94 634.81 L606.22 636.95 L617.5 639.21 L628.78 641.6 L640.06 644.1 L651.34 646.72 L662.62 649.44 L673.9 652.26 L685.18 655.17 L696.46 658.16 L707.74 661.23 L719.02 664.37 L730.3 667.58 L741.58 670.84 L752.86 674.15 L764.14 677.5 L775.42 680.89 L786.7 684.3 L797.98 687.75 L809.26 691.25 L820.54 694.85 L831.82 698.57 L843.1 702.45 L854.38 706.52 L865.66 710.82 L876.94 715.39 L888.22 720.25 L899.5 725.44 M448.3 643.7 L459.58 644.25 L470.86 644.88 L482.14 645.59 L493.42 646.39 L504.7 647.29 L515.98 648.28 L527.26 649.38 L538.54 650.58 L549.82 651.9 L561.1 653.33 L572.38 654.89 L583.66 656.56 L594.94 658.37 L606.22 660.31 L617.5 662.39 L628.78 664.61 L640.06 666.96 L651.34 669.43 L662.62 672 L673.9 674.67 L685.18 677.42 L696.46 680.24 L707.74 683.12 L719.02 686.05 L730.3 689 L741.58 691.98 L752.86 694.97 L764.14 697.96 L775.42 700.93 L786.7 703.87 L797.98 706.79 L809.26 709.72 L820.54 712.72 L831.82 715.85 L843.1 719.16 L854.38 722.71 L865.66 726.55 L876.94 730.73 L888.22 735.32 L899.5 740.36 M448.3 670.72 L459.58 671.23 L470.86 671.8 L482.14 672.44 L493.42 673.15 L504.7 673.94 L515.98 674.82 L527.26 675.78 L538.54 676.82 L549.82 677.96 L561.1 679.19 L572.38 680.53 L583.66 681.96 L594.94 683.49 L606.22 685.14 L617.5 686.9 L628.78 688.77 L640.06 690.74 L651.34 692.82 L662.62 694.99 L673.9 697.25 L685.18 699.58 L696.46 701.98 L707.74 704.45 L719.02 706.98 L730.3 709.55 L741.58 712.16 L752.86 714.81 L764.14 717.48 L775.42 720.17 L786.7 722.88 L797.98 725.59 L809.26 728.33 L820.54 731.12 L831.82 733.98 L843.1 736.93 L854.38 740 L865.66 743.2 L876.94 746.57 L888.22 750.11 L899.5 753.86 M448.3 700.74 L459.58 701.22 L470.86 701.76 L482.14 702.36 L493.42 703.03 L504.7 703.76 L515.98 704.56 L527.26 705.44 L538.54 706.38 L549.82 707.41 L561.1 708.51 L572.38 709.7 L583.66 710.96 L594.94 712.31 L606.22 713.73 L617.5 715.23 L628.78 716.8 L640.06 718.44 L651.34 720.15 L662.62 721.93 L673.9 723.77 L685.18 725.68 L696.46 727.66 L707.74 729.69 L719.02 731.78 L730.3 733.93 L741.58 736.13 L752.86 738.39 L764.14 740.69 L775.42 743.05 L786.7 745.46 L797.98 747.91 L809.26 750.41 L820.54 752.95 L831.82 755.53 L843.1 758.14 L854.38 760.8 L865.66 763.49 L876.94 766.22 L888.22 768.97 L899.5 771.76 M448.3 727.54 L459.58 727.92 L470.86 728.35 L482.14 728.82 L493.42 729.35 L504.7 729.94 L515.98 730.58 L527.26 731.28 L538.54 732.04 L549.82 732.86 L561.1 733.75 L572.38 734.71 L583.66 735.73 L594.94 736.81 L606.22 737.96 L617.5 739.17 L628.78 740.45 L640.06 741.78 L651.34 743.18 L662.62 744.63 L673.9 746.14 L685.18 747.71 L696.46 749.33 L707.74 751.01 L719.02 752.74 L730.3 754.52 L741.58 756.36 L752.86 758.24 L764.14 760.18 L775.42 762.17 L786.7 764.2 L797.98 766.28 L809.26 768.4 L820.54 770.57 L831.82 772.79 L843.1 775.04 L854.38 777.34 L865.66 779.68 L876.94 782.06 L888.22 784.48 L899.5 786.93 M448.3 756.28 L459.58 756.66 L470.86 757.07 L482.14 757.52 L493.42 758 L504.7 758.52 L515.98 759.08 L527.26 759.68 L538.54 760.32 L549.82 761 L561.1 761.72 L572.38 762.49 L583.66 763.3 L594.94 764.15 L606.22 765.05 L617.5 765.99 L628.78 766.98 L640.06 768.01 L651.34 769.08 L662.62 770.2 L673.9 771.36 L685.18 772.57 L696.46 773.82 L707.74 775.12 L719.02 776.46 L730.3 777.85 L741.58 779.28 L752.86 780.76 L764.14 782.28 L775.42 783.85 L786.7 785.47 L797.98 787.13 L809.26 788.83 L820.54 790.59 L831.82 792.39 L843.1 794.23 L854.38 796.12 L865.66 798.06 L876.94 800.05 L888.22 802.08 L899.5 804.16 M448.3 784.15 L459.58 784.49 L470.86 784.86 L482.14 785.26 L493.42 785.69 L504.7 786.15 L515.98 786.64 L527.26 787.16 L538.54 787.71 L549.82 788.29 L561.1 788.9 L572.38 789.54 L583.66 790.21 L594.94 790.92 L606.22 791.65 L617.5 792.42 L628.78 793.22 L640.06 794.05 L651.34 794.9 L662.62 795.79 L673.9 796.71 L685.18 797.66 L696.46 798.65 L707.74 799.66 L719.02 800.7 L730.3 801.77 L741.58 802.87 L752.86 804.01 L764.14 805.17 L775.42 806.36 L786.7 807.59 L797.98 808.84 L809.26 810.12 L820.54 811.44 L831.82 812.78 L843.1 814.15 L854.38 815.55 L865.66 816.99 L876.94 818.45 L888.22 819.94 L899.5 821.46 M448.3 810.99 L459.58 811.19 L470.86 811.41 L482.14 811.65 L493.42 811.91 L504.7 812.19 L515.98 812.48 L527.26 812.8 L538.54 813.14 L549.82 813.5 L561.1 813.89 L572.38 814.29 L583.66 814.72 L594.94 815.17 L606.22 815.65 L617.5 816.15 L628.78 816.67 L640.06 817.22 L651.34 817.8 L662.62 818.4 L673.9 819.03 L685.18 819.68 L696.46 820.37 L707.74 821.08 L719.02 821.82 L730.3 822.58 L741.58 823.38 L752.86 824.21 L764.14 825.06 L775.42 825.95 L786.7 826.87 L797.98 827.82 L809.26 828.8 L820.54 829.81 L831.82 830.86 L843.1 831.94 L854.38 833.05 L865.66 834.2 L876.94 835.38 L888.22 836.6 L899.5 837.85" fill="none" stroke="#0a7880" stroke-width="2.7" stroke-linejoin="round"/>
<path d="M166.3 162.04H955.9V880.3" fill="none" stroke="#444" stroke-width="1.5"/>
<line x1="166.3" y1="162.04" x2="166.3" y2="880.3" stroke="#555" stroke-width="1.4"/>
<line x1="150.3" y1="864.3" x2="955.9" y2="864.3" stroke="#555" stroke-width="1.4"/>
<line x1="150.3" y1="162.04" x2="166.3" y2="162.04" stroke="#555" stroke-width="1.2"/>
<line x1="158.3" y1="837.29" x2="166.3" y2="837.29" stroke="#555" stroke-width="1.1"/>
<line x1="150.3" y1="810.28" x2="166.3" y2="810.28" stroke="#555" stroke-width="1.1"/>
<line x1="158.3" y1="783.27" x2="166.3" y2="783.27" stroke="#555" stroke-width="1.1"/>
<line x1="150.3" y1="756.26" x2="166.3" y2="756.26" stroke="#555" stroke-width="1.1"/>
<line x1="158.3" y1="729.25" x2="166.3" y2="729.25" stroke="#555" stroke-width="1.1"/>
<line x1="150.3" y1="702.24" x2="166.3" y2="702.24" stroke="#555" stroke-width="1.1"/>
<line x1="158.3" y1="675.23" x2="166.3" y2="675.23" stroke="#555" stroke-width="1.1"/>
<line x1="150.3" y1="648.22" x2="166.3" y2="648.22" stroke="#555" stroke-width="1.1"/>
<line x1="158.3" y1="621.21" x2="166.3" y2="621.21" stroke="#555" stroke-width="1.1"/>
<line x1="150.3" y1="594.2" x2="166.3" y2="594.2" stroke="#555" stroke-width="1.1"/>
<line x1="158.3" y1="567.19" x2="166.3" y2="567.19" stroke="#555" stroke-width="1.1"/>
<line x1="150.3" y1="540.18" x2="166.3" y2="540.18" stroke="#555" stroke-width="1.1"/>
<line x1="158.3" y1="513.17" x2="166.3" y2="513.17" stroke="#555" stroke-width="1.1"/>
<line x1="150.3" y1="486.16" x2="166.3" y2="486.16" stroke="#555" stroke-width="1.1"/>
<line x1="158.3" y1="459.15" x2="166.3" y2="459.15" stroke="#555" stroke-width="1.1"/>
<line x1="150.3" y1="432.14" x2="166.3" y2="432.14" stroke="#555" stroke-width="1.1"/>
<line x1="158.3" y1="405.13" x2="166.3" y2="405.13" stroke="#555" stroke-width="1.1"/>
<line x1="150.3" y1="378.12" x2="166.3" y2="378.12" stroke="#555" stroke-width="1.1"/>
<line x1="158.3" y1="351.11" x2="166.3" y2="351.11" stroke="#555" stroke-width="1.1"/>
<line x1="150.3" y1="324.1" x2="166.3" y2="324.1" stroke="#555" stroke-width="1.1"/>
<line x1="158.3" y1="297.09" x2="166.3" y2="297.09" stroke="#555" stroke-width="1.1"/>
<line x1="150.3" y1="270.08" x2="166.3" y2="270.08" stroke="#555" stroke-width="1.1"/>
<line x1="158.3" y1="243.07" x2="166.3" y2="243.07" stroke="#555" stroke-width="1.1"/>
<line x1="150.3" y1="216.06" x2="166.3" y2="216.06" stroke="#555" stroke-width="1.1"/>
<line x1="158.3" y1="189.05" x2="166.3" y2="189.05" stroke="#555" stroke-width="1.1"/>
<line x1="194.5" y1="864.3" x2="194.5" y2="872.3" stroke="#555" stroke-width="1.1"/>
<line x1="222.7" y1="864.3" x2="222.7" y2="880.3" stroke="#555" stroke-width="1.1"/>
<line x1="250.9" y1="864.3" x2="250.9" y2="872.3" stroke="#555" stroke-width="1.1"/>
<line x1="279.1" y1="864.3" x2="279.1" y2="880.3" stroke="#555" stroke-width="1.1"/>
<line x1="307.3" y1="864.3" x2="307.3" y2="872.3" stroke="#555" stroke-width="1.1"/>
<line x1="335.5" y1="864.3" x2="335.5" y2="880.3" stroke="#555" stroke-width="1.1"/>
<line x1="363.7" y1="864.3" x2="363.7" y2="872.3" stroke="#555" stroke-width="1.1"/>
<line x1="391.9" y1="864.3" x2="391.9" y2="880.3" stroke="#555" stroke-width="1.1"/>
<line x1="420.1" y1="864.3" x2="420.1" y2="872.3" stroke="#555" stroke-width="1.1"/>
<line x1="448.3" y1="864.3" x2="448.3" y2="880.3" stroke="#555" stroke-width="1.1"/>
<line x1="476.5" y1="864.3" x2="476.5" y2="872.3" stroke="#555" stroke-width="1.1"/>
<line x1="504.7" y1="864.3" x2="504.7" y2="880.3" stroke="#555" stroke-width="1.1"/>
<line x1="532.9" y1="864.3" x2="532.9" y2="872.3" stroke="#555" stroke-width="1.1"/>
<line x1="561.1" y1="864.3" x2="561.1" y2="880.3" stroke="#555" stroke-width="1.1"/>
<line x1="589.3" y1="864.3" x2="589.3" y2="872.3" stroke="#555" stroke-width="1.1"/>
<line x1="617.5" y1="864.3" x2="617.5" y2="880.3" stroke="#555" stroke-width="1.1"/>
<line x1="645.7" y1="864.3" x2="645.7" y2="872.3" stroke="#555" stroke-width="1.1"/>
<line x1="673.9" y1="864.3" x2="673.9" y2="880.3" stroke="#555" stroke-width="1.1"/>
<line x1="702.1" y1="864.3" x2="702.1" y2="872.3" stroke="#555" stroke-width="1.1"/>
<line x1="730.3" y1="864.3" x2="730.3" y2="880.3" stroke="#555" stroke-width="1.1"/>
<line x1="758.5" y1="864.3" x2="758.5" y2="872.3" stroke="#555" stroke-width="1.1"/>
<line x1="786.7" y1="864.3" x2="786.7" y2="880.3" stroke="#555" stroke-width="1.1"/>
<line x1="814.9" y1="864.3" x2="814.9" y2="872.3" stroke="#555" stroke-width="1.1"/>
<line x1="843.1" y1="864.3" x2="843.1" y2="880.3" stroke="#555" stroke-width="1.1"/>
<line x1="871.3" y1="864.3" x2="871.3" y2="872.3" stroke="#555" stroke-width="1.1"/>
<line x1="899.5" y1="864.3" x2="899.5" y2="880.3" stroke="#555" stroke-width="1.1"/>
<line x1="927.7" y1="864.3" x2="927.7" y2="872.3" stroke="#555" stroke-width="1.1"/>
<line x1="96.8" y1="162.04" x2="96.8" y2="864.3" stroke="#555" stroke-width="1.2"/>
<line x1="80.8" y1="864.3" x2="96.8" y2="864.3" stroke="#555" stroke-width="1.1"/>
<line x1="88.8" y1="836.76" x2="96.8" y2="836.76" stroke="#555" stroke-width="1.1"/>
<line x1="88.8" y1="809.22" x2="96.8" y2="809.22" stroke="#555" stroke-width="1.1"/>
<line x1="88.8" y1="781.68" x2="96.8" y2="781.68" stroke="#555" stroke-width="1.1"/>
<line x1="80.8" y1="754.14" x2="96.8" y2="754.14" stroke="#555" stroke-width="1.1"/>
<line x1="88.8" y1="726.6" x2="96.8" y2="726.6" stroke="#555" stroke-width="1.1"/>
<line x1="88.8" y1="699.06" x2="96.8" y2="699.06" stroke="#555" stroke-width="1.1"/>
<line x1="88.8" y1="671.52" x2="96.8" y2="671.52" stroke="#555" stroke-width="1.1"/>
<line x1="80.8" y1="643.98" x2="96.8" y2="643.98" stroke="#555" stroke-width="1.1"/>
<line x1="88.8" y1="616.44" x2="96.8" y2="616.44" stroke="#555" stroke-width="1.1"/>
<line x1="88.8" y1="588.9" x2="96.8" y2="588.9" stroke="#555" stroke-width="1.1"/>
<line x1="88.8" y1="561.36" x2="96.8" y2="561.36" stroke="#555" stroke-width="1.1"/>
<line x1="80.8" y1="533.82" x2="96.8" y2="533.82" stroke="#555" stroke-width="1.1"/>
<line x1="88.8" y1="506.28" x2="96.8" y2="506.28" stroke="#555" stroke-width="1.1"/>
<line x1="88.8" y1="478.74" x2="96.8" y2="478.74" stroke="#555" stroke-width="1.1"/>
<line x1="88.8" y1="451.2" x2="96.8" y2="451.2" stroke="#555" stroke-width="1.1"/>
<line x1="80.8" y1="423.66" x2="96.8" y2="423.66" stroke="#555" stroke-width="1.1"/>
<line x1="88.8" y1="396.12" x2="96.8" y2="396.12" stroke="#555" stroke-width="1.1"/>
<line x1="88.8" y1="368.58" x2="96.8" y2="368.58" stroke="#555" stroke-width="1.1"/>
<line x1="88.8" y1="341.04" x2="96.8" y2="341.04" stroke="#555" stroke-width="1.1"/>
<line x1="80.8" y1="313.5" x2="96.8" y2="313.5" stroke="#555" stroke-width="1.1"/>
<line x1="88.8" y1="285.96" x2="96.8" y2="285.96" stroke="#555" stroke-width="1.1"/>
<line x1="88.8" y1="258.42" x2="96.8" y2="258.42" stroke="#555" stroke-width="1.1"/>
<line x1="88.8" y1="230.88" x2="96.8" y2="230.88" stroke="#555" stroke-width="1.1"/>
<line x1="80.8" y1="203.34" x2="96.8" y2="203.34" stroke="#555" stroke-width="1.1"/>
<line x1="88.8" y1="175.8" x2="96.8" y2="175.8" stroke="#555" stroke-width="1.1"/>
<line x1="166.3" y1="918.3" x2="955.9" y2="918.3" stroke="#555" stroke-width="1.2"/>
<line x1="166.3" y1="918.3" x2="166.3" y2="933.8" stroke="#555" stroke-width="1.1"/>
<line x1="186.67" y1="918.3" x2="186.67" y2="925.8" stroke="#555" stroke-width="1.1"/>
<line x1="207.04" y1="918.3" x2="207.04" y2="925.8" stroke="#555" stroke-width="1.1"/>
<line x1="227.41" y1="918.3" x2="227.41" y2="925.8" stroke="#555" stroke-width="1.1"/>
<line x1="247.78" y1="918.3" x2="247.78" y2="925.8" stroke="#555" stroke-width="1.1"/>
<line x1="268.15" y1="918.3" x2="268.15" y2="933.8" stroke="#555" stroke-width="1.1"/>
<line x1="288.52" y1="918.3" x2="288.52" y2="925.8" stroke="#555" stroke-width="1.1"/>
<line x1="308.89" y1="918.3" x2="308.89" y2="925.8" stroke="#555" stroke-width="1.1"/>
<line x1="329.26" y1="918.3" x2="329.26" y2="925.8" stroke="#555" stroke-width="1.1"/>
<line x1="349.63" y1="918.3" x2="349.63" y2="925.8" stroke="#555" stroke-width="1.1"/>
<line x1="370" y1="918.3" x2="370" y2="933.8" stroke="#555" stroke-width="1.1"/>
<line x1="390.37" y1="918.3" x2="390.37" y2="925.8" stroke="#555" stroke-width="1.1"/>
<line x1="410.74" y1="918.3" x2="410.74" y2="925.8" stroke="#555" stroke-width="1.1"/>
<line x1="431.11" y1="918.3" x2="431.11" y2="925.8" stroke="#555" stroke-width="1.1"/>
<line x1="451.48" y1="918.3" x2="451.48" y2="925.8" stroke="#555" stroke-width="1.1"/>
<line x1="471.85" y1="918.3" x2="471.85" y2="933.8" stroke="#555" stroke-width="1.1"/>
<line x1="492.22" y1="918.3" x2="492.22" y2="925.8" stroke="#555" stroke-width="1.1"/>
<line x1="512.59" y1="918.3" x2="512.59" y2="925.8" stroke="#555" stroke-width="1.1"/>
<line x1="532.96" y1="918.3" x2="532.96" y2="925.8" stroke="#555" stroke-width="1.1"/>
<line x1="553.33" y1="918.3" x2="553.33" y2="925.8" stroke="#555" stroke-width="1.1"/>
<line x1="573.7" y1="918.3" x2="573.7" y2="933.8" stroke="#555" stroke-width="1.1"/>
<line x1="594.07" y1="918.3" x2="594.07" y2="925.8" stroke="#555" stroke-width="1.1"/>
<line x1="614.44" y1="918.3" x2="614.44" y2="925.8" stroke="#555" stroke-width="1.1"/>
<line x1="634.81" y1="918.3" x2="634.81" y2="925.8" stroke="#555" stroke-width="1.1"/>
<line x1="655.18" y1="918.3" x2="655.18" y2="925.8" stroke="#555" stroke-width="1.1"/>
<line x1="675.55" y1="918.3" x2="675.55" y2="933.8" stroke="#555" stroke-width="1.1"/>
<line x1="695.92" y1="918.3" x2="695.92" y2="925.8" stroke="#555" stroke-width="1.1"/>
<line x1="716.29" y1="918.3" x2="716.29" y2="925.8" stroke="#555" stroke-width="1.1"/>
<line x1="736.66" y1="918.3" x2="736.66" y2="925.8" stroke="#555" stroke-width="1.1"/>
<line x1="757.03" y1="918.3" x2="757.03" y2="925.8" stroke="#555" stroke-width="1.1"/>
<line x1="777.4" y1="918.3" x2="777.4" y2="933.8" stroke="#555" stroke-width="1.1"/>
<line x1="797.77" y1="918.3" x2="797.77" y2="925.8" stroke="#555" stroke-width="1.1"/>
<line x1="818.14" y1="918.3" x2="818.14" y2="925.8" stroke="#555" stroke-width="1.1"/>
<line x1="838.51" y1="918.3" x2="838.51" y2="925.8" stroke="#555" stroke-width="1.1"/>
<line x1="858.88" y1="918.3" x2="858.88" y2="925.8" stroke="#555" stroke-width="1.1"/>
<line x1="879.25" y1="918.3" x2="879.25" y2="933.8" stroke="#555" stroke-width="1.1"/>
<line x1="899.62" y1="918.3" x2="899.62" y2="925.8" stroke="#555" stroke-width="1.1"/>
<line x1="919.99" y1="918.3" x2="919.99" y2="925.8" stroke="#555" stroke-width="1.1"/>
<line x1="940.36" y1="918.3" x2="940.36" y2="925.8" stroke="#555" stroke-width="1.1"/>
<rect x="730.3" y="162.04" width="225.6" height="108.04" fill="#fff" stroke="#333" stroke-width="1.2"/>
<text transform="translate(179,251.5) scale(1.06,1)" font-size="16">22</text>
<text transform="translate(179,304.6) scale(1.06,1)" font-size="16">20</text>
<text transform="translate(179,359.3) scale(1.06,1)" font-size="16">18</text>
<text transform="translate(179,417.6) scale(1.06,1)" font-size="16">16</text>
<text transform="translate(179,471.8) scale(1.06,1)" font-size="16">14</text>
<text transform="translate(179,528.4) scale(1.06,1)" font-size="16">12</text>
<text transform="translate(179,583.2) scale(1.06,1)" font-size="16">10</text>
<text transform="translate(179,611.4) scale(1.06,1)" font-size="16">9</text>
<text transform="translate(179,637.8) scale(1.06,1)" font-size="16">8</text>
<text transform="translate(179,664.2) scale(1.06,1)" font-size="16">7</text>
<text transform="translate(179,693.3) scale(1.06,1)" font-size="16">6</text>
<text transform="translate(179,720.8) scale(1.06,1)" font-size="16">5</text>
<text transform="translate(179,750.2) scale(1.06,1)" font-size="16">4</text>
<text transform="translate(179,775.4) scale(1.06,1)" font-size="16">3</text>
<text transform="translate(179,804.8) scale(1.06,1)" font-size="16">2</text>
<text transform="translate(128.5,870.7) scale(1.08,1)" font-size="16" text-anchor="middle">0</text>
<text transform="translate(128.5,816.68) scale(1.08,1)" font-size="16" text-anchor="middle">20</text>
<text transform="translate(128.5,762.66) scale(1.08,1)" font-size="16" text-anchor="middle">40</text>
<text transform="translate(128.5,708.64) scale(1.08,1)" font-size="16" text-anchor="middle">60</text>
<text transform="translate(128.5,654.62) scale(1.08,1)" font-size="16" text-anchor="middle">80</text>
<text transform="translate(128.5,600.6) scale(1.08,1)" font-size="16" text-anchor="middle">100</text>
<text transform="translate(128.5,546.58) scale(1.08,1)" font-size="16" text-anchor="middle">120</text>
<text transform="translate(128.5,492.56) scale(1.08,1)" font-size="16" text-anchor="middle">140</text>
<text transform="translate(128.5,438.54) scale(1.08,1)" font-size="16" text-anchor="middle">160</text>
<text transform="translate(128.5,384.52) scale(1.08,1)" font-size="16" text-anchor="middle">180</text>
<text transform="translate(128.5,330.5) scale(1.08,1)" font-size="16" text-anchor="middle">200</text>
<text transform="translate(128.5,276.48) scale(1.08,1)" font-size="16" text-anchor="middle">220</text>
<text transform="translate(128.5,222.46) scale(1.08,1)" font-size="16" text-anchor="middle">240</text>
<text transform="translate(73.4,870.2) scale(1.08,1)" font-size="16" text-anchor="end">0</text>
<text transform="translate(73.4,760.04) scale(1.08,1)" font-size="16" text-anchor="end">400</text>
<text transform="translate(73.4,649.88) scale(1.08,1)" font-size="16" text-anchor="end">800</text>
<text transform="translate(73.4,539.72) scale(1.08,1)" font-size="16" text-anchor="end">1200</text>
<text transform="translate(73.4,429.56) scale(1.08,1)" font-size="16" text-anchor="end">1600</text>
<text transform="translate(73.4,319.4) scale(1.08,1)" font-size="16" text-anchor="end">2000</text>
<text transform="translate(167.3,900) scale(1.08,1)" font-size="16" text-anchor="middle">0</text>
<text transform="translate(223.7,900) scale(1.08,1)" font-size="16" text-anchor="middle">1</text>
<text transform="translate(280.1,900) scale(1.08,1)" font-size="16" text-anchor="middle">2</text>
<text transform="translate(336.5,900) scale(1.08,1)" font-size="16" text-anchor="middle">3</text>
<text transform="translate(392.9,900) scale(1.08,1)" font-size="16" text-anchor="middle">4</text>
<text transform="translate(449.3,900) scale(1.08,1)" font-size="16" text-anchor="middle">5</text>
<text transform="translate(505.7,900) scale(1.08,1)" font-size="16" text-anchor="middle">6</text>
<text transform="translate(562.1,900) scale(1.08,1)" font-size="16" text-anchor="middle">7</text>
<text transform="translate(618.5,900) scale(1.08,1)" font-size="16" text-anchor="middle">8</text>
<text transform="translate(674.9,900) scale(1.08,1)" font-size="16" text-anchor="middle">9</text>
<text transform="translate(732.8,900) scale(1.08,1)" font-size="16" text-anchor="middle">10</text>
<text transform="translate(789.2,900) scale(1.08,1)" font-size="16" text-anchor="middle">11</text>
<text transform="translate(845.6,900) scale(1.08,1)" font-size="16" text-anchor="middle">12</text>
<text transform="translate(167.5,956.4) scale(1.08,1)" font-size="16" text-anchor="middle">0</text>
<text transform="translate(269.35,956.4) scale(1.08,1)" font-size="16" text-anchor="middle">0.5</text>
<text transform="translate(371.2,956.4) scale(1.08,1)" font-size="16" text-anchor="middle">1.0</text>
<text transform="translate(473.05,956.4) scale(1.08,1)" font-size="16" text-anchor="middle">1.5</text>
<text transform="translate(574.9,956.4) scale(1.08,1)" font-size="16" text-anchor="middle">2.0</text>
<text transform="translate(676.75,956.4) scale(1.08,1)" font-size="16" text-anchor="middle">2.5</text>
<text transform="translate(778.6,956.4) scale(1.08,1)" font-size="16" text-anchor="middle">3.0</text>
<text transform="translate(880.45,956.4) scale(1.08,1)" font-size="16" text-anchor="middle">3.5</text>
<text transform="translate(24.08,78.1) scale(1.0242,1)" font-size="24" font-weight="bold" style="fill:#0c859b;stroke:#0c859b;stroke-width:0.5px">Характеристики</text>
<text transform="translate(224.5,78.1) scale(0.9603,1)" font-size="24" font-weight="bold" style="fill:#0c859b;stroke:#0c859b;stroke-width:0.5px">насосов</text>
<text transform="translate(743.53,202.6) scale(1.0977,1)" font-size="29" font-weight="bold" style="fill:#111;stroke:#111;stroke-width:0px">LVR10,LVS10</text>
<text transform="translate(817.51,231.2) scale(1.1675,1)" font-size="19" font-weight="normal" style="fill:#161616;stroke:#161616;stroke-width:0.2px">50Hz</text>
<text transform="translate(767.33,256.3) scale(1.0503,1)" font-size="16.6" font-weight="normal" style="fill:#161616;stroke:#161616;stroke-width:0.2px">ISO 9906 Annex A</text>
<text transform="translate(48.36,168.7) scale(1.1215,1)" font-size="16" font-weight="normal" style="fill:#161616;stroke:#161616;stroke-width:0.4px">P</text>
<text transform="translate(34.27,189) scale(1.1258,1)" font-size="15.6" font-weight="normal" style="fill:#161616;stroke:#161616;stroke-width:0.4px">[kPa]</text>
<text transform="translate(122.16,168.7) scale(1.1283,1)" font-size="16" font-weight="normal" style="fill:#161616;stroke:#161616;stroke-width:0.4px">H</text>
<text transform="translate(116.47,189) scale(1.1274,1)" font-size="15.6" font-weight="normal" style="fill:#161616;stroke:#161616;stroke-width:0.4px">[m]</text>
<text transform="translate(908.84,957.4) scale(1.1271,1)" font-size="17" font-weight="normal" style="fill:#161616;stroke:#161616;stroke-width:0.4px">Q (л/с)</text>
<text transform="translate(908.78,900.7) scale(1.0734,1)" font-size="17" font-weight="normal" style="fill:#161616;stroke:#161616;stroke-width:0.4px">Q</text>
<text transform="translate(928.82,900.7) scale(0.9586,1)" font-size="17" font-weight="normal" style="fill:#161616;stroke:#161616;stroke-width:0.4px">(</text>
<text transform="translate(935.38,900.8) scale(1.0075,1)" font-size="18.6" font-weight="normal" style="fill:#161616;stroke:#161616;stroke-width:0.4px">м</text>
<text transform="translate(948.98,894.4) scale(0.9354,1)" font-size="9.8" font-weight="normal" style="fill:#161616;stroke:#161616;stroke-width:0.4px">3</text>
<text transform="translate(955.1,900.7) scale(1.0714,1)" font-size="17" font-weight="normal" style="fill:#161616;stroke:#161616;stroke-width:0.4px">/</text>
<text transform="translate(959.67,900.8) scale(1.1022,1)" font-size="18.6" font-weight="normal" style="fill:#161616;stroke:#161616;stroke-width:0.4px">ч</text>
<text transform="translate(971.12,900.7) scale(0.9150,1)" font-size="17" font-weight="normal" style="fill:#161616;stroke:#161616;stroke-width:0.4px">)</text>
</svg>
</body></html>
